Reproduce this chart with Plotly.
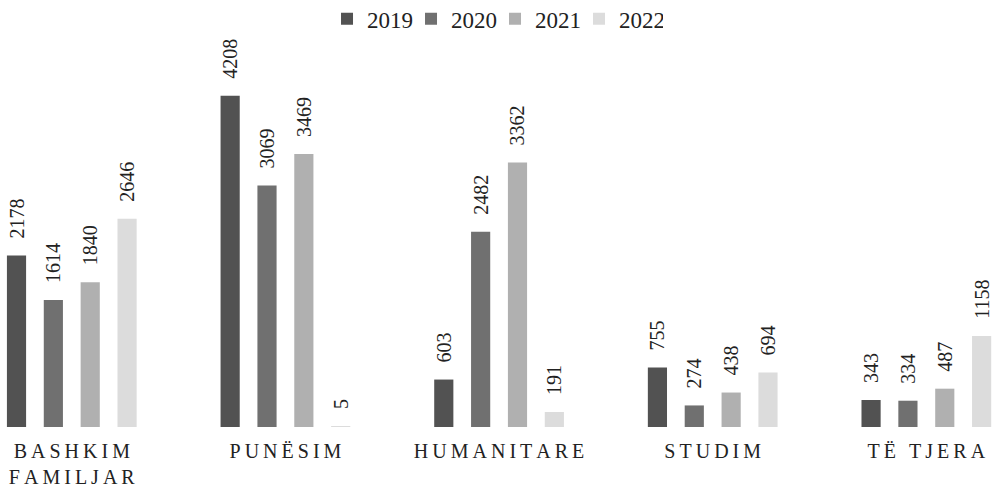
import plotly.graph_objects as go

categories = ["BASHKIM<br>FAMILJAR", "PUNËSIM", "HUMANITARE", "STUDIM", "TË TJERA"]
years = ["2019", "2020", "2021", "2022"]
v2019 = [2178, 4208, 603, 755, 343]
v2020 = [1614, 3069, 2482, 274, 334]
v2021 = [1840, 3469, 3362, 438, 487]
v2022 = [2646, 5, 191, 694, 1158]
colors = ["#525252", "#707070", "#b0b0b0", "#dcdcdc"]

def spaced(label):
    parts = label.split("<br>")
    return "<br>".join("\u2009".join(list(p)) for p in parts)

tick_text = [spaced(c) for c in categories]
xpos = list(range(len(categories)))

fig = go.Figure()
for name, vals, col in zip(years, [v2019, v2020, v2021, v2022], colors):
    fig.add_trace(go.Bar(
        x=xpos, y=vals, name=name,
        marker=dict(color=col, line=dict(width=0)),
        text=["\u2002\u2009" + str(v) for v in vals], textposition="outside", textangle=-90,
        constraintext="none",
        textfont=dict(family="Liberation Serif", size=20, color="#222"),
        cliponaxis=False,
    ))

fig.update_layout(
    width=996, height=488,
    barmode="group", bargap=0.31, bargroupgap=0.48,
    paper_bgcolor="white", plot_bgcolor="white",
    margin=dict(l=0, r=0, t=40, b=61, autoexpand=False),
    font=dict(family="Liberation Serif", size=20, color="#222"),
    legend=dict(orientation="h", x=0.497, xanchor="center", y=1.055, yanchor="middle",
                font=dict(size=23), itemwidth=30, entrywidth=39, entrywidthmode="pixels"),
    xaxis=dict(range=[-0.336, 4.326], tickmode="array", tickvals=xpos, ticktext=tick_text,
               showgrid=False, zeroline=False, showline=False, ticks="", automargin=False,
               ticklabelstandoff=10),
    yaxis=dict(range=[0, 4918], visible=False, automargin=False),
)

fig.write_html("out.html", config={"displayModeBar": False},
               post_script="document.body.style.margin='0';")
